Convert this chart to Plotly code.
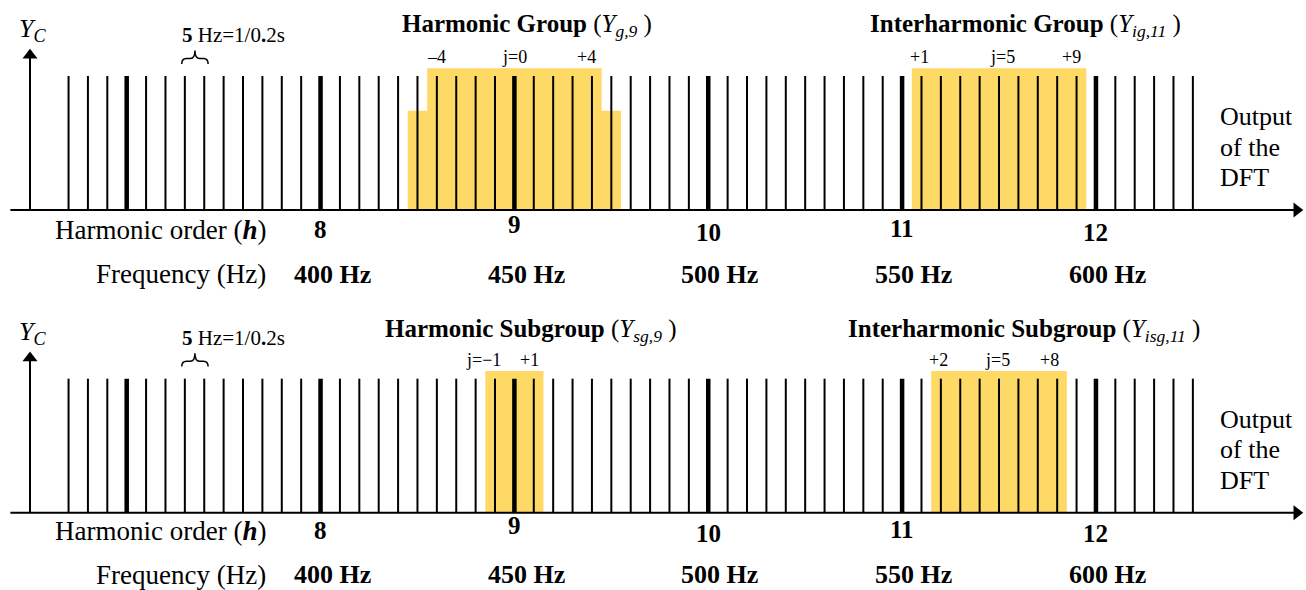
import plotly.graph_objects as go

# ---------------- data ----------------
bin_freqs = [335, 340, 345, 350, 355, 360, 365, 370, 375, 380, 385, 390, 395, 400,
             405, 410, 415, 420, 425, 430, 435, 440, 445, 450, 455, 460, 465, 470,
             475, 480, 485, 490, 495, 500, 505, 510, 515, 520, 525, 530, 535, 540,
             545, 550, 555, 560, 565, 570, 575, 580, 585, 590, 595, 600, 605, 610,
             615, 620, 625]
bin_amps = [1.0, 1.0, 1.0, 1.0, 1.0, 1.0, 1.0, 1.0, 1.0, 1.0, 1.0, 1.0, 1.0, 1.0,
            1.0, 1.0, 1.0, 1.0, 1.0, 1.0, 1.0, 1.0, 1.0, 1.0, 1.0, 1.0, 1.0, 1.0,
            1.0, 1.0, 1.0, 1.0, 1.0, 1.0, 1.0, 1.0, 1.0, 1.0, 1.0, 1.0, 1.0, 1.0,
            1.0, 1.0, 1.0, 1.0, 1.0, 1.0, 1.0, 1.0, 1.0, 1.0, 1.0, 1.0, 1.0, 1.0,
            1.0, 1.0, 1.0]
harmonic_orders = [8, 9, 10, 11, 12]
harmonic_freqs = [400, 450, 500, 550, 600]
freq_labels = ["400 Hz", "450 Hz", "500 Hz", "550 Hz", "600 Hz"]

# shaded groupings: (start Hz, end Hz, height)
top_group_starts = [422.5, 427.5, 552.5]
top_group_ends = [477.5, 472.5, 597.5]
top_group_heights = [0.74, 1.057, 1.057]
bot_group_starts = [442.5, 557.5]
bot_group_ends = [457.5, 592.5]
bot_group_heights = [1.057, 1.057]

FONT = "Liberation Serif"
SHADE = "#FFD966"

fig = go.Figure()


def add_panel(yname, starts, ends, heights):
    centers = [(s + e) / 2 for s, e in zip(starts, ends)]
    widths = [e - s for s, e in zip(starts, ends)]
    fig.add_trace(go.Bar(x=centers, y=heights, width=widths, yaxis=yname,
                         marker=dict(color=SHADE, line=dict(width=0)),
                         hoverinfo="skip"))
    xs_n, ys_n, xs_t, ys_t = [], [], [], []
    for f, a in zip(bin_freqs, bin_amps):
        if f % 50 == 0:
            xs_t += [f, f, None]
            ys_t += [0, a, None]
        else:
            xs_n += [f, f, None]
            ys_n += [0, a, None]
    fig.add_trace(go.Scatter(x=xs_n, y=ys_n, mode="lines", yaxis=yname,
                             line=dict(color="black", width=2), hoverinfo="skip"))
    fig.add_trace(go.Scatter(x=xs_t, y=ys_t, mode="lines", yaxis=yname,
                             line=dict(color="black", width=4.5), hoverinfo="skip"))
    # axis lines with arrowheads
    fig.add_trace(go.Scatter(x=[320, 651.5, None, 325.06, 325.06],
                             y=[0, 0, None, 0, 1.15], mode="lines", yaxis=yname,
                             line=dict(color="black", width=2), hoverinfo="skip"))
    fig.add_trace(go.Scatter(x=[651.8, 325.06], y=[0, 1.155], mode="markers", yaxis=yname,
                             marker=dict(symbol=["triangle-right", "triangle-up"],
                                         size=13, color="black", line=dict(width=0)),
                             hoverinfo="skip"))


add_panel("y", top_group_starts, top_group_ends, top_group_heights)
add_panel("y2", bot_group_starts, bot_group_ends, bot_group_heights)

ann = []
shapes = []


def txt(x, y, text, yref, size=26, xanchor="center", yanchor="middle"):
    ann.append(dict(x=x, y=y, xref="x", yref=yref, text=text, showarrow=False,
                    xanchor=xanchor, yanchor=yanchor,
                    font=dict(family=FONT, size=size, color="black")))


for yref, titles, title_y, jlabels, row_dy in [
    ("y",
     [(420.5, "<b>Harmonic Group</b> (<i>Y</i><sub><i>g,9</i></sub> )"),
      (541.2, "<b>Interharmonic Group</b> (<i>Y</i><sub><i>ig,11</i></sub> )")],
     1.375,
     [(430, "\u20134"), (450, "j=0"), (468.7, "+4"),
      (554.6, "+1"), (576.0, "j=5"), (593.8, "+9")],
     0.0),
    ("y2",
     [(416.1, "<b>Harmonic Subgroup</b> (<i>Y</i><sub><i>sg,9</i></sub> )"),
      (535.5, "<b>Interharmonic Subgroup</b> (<i>Y</i><sub><i>isg,11</i></sub> )")],
     1.36,
     [(442.0, "j=\u22121"), (453.8, "+1"),
      (559.5, "+2"), (574.7, "j=5"), (587.9, "+8")],
     0.015),
]:
    txt(321.7, 1.343, "<i>Y</i><sub><i>C</i></sub>", yref, size=26, xanchor="left")
    txt(363.75, 1.306, "<b>5</b> Hz=1/0<b>.</b>2s", yref, size=21, xanchor="left")
    # brace spanning one bin spacing (365 -> 370 Hz)
    x0, x1 = 364.2, 371.0
    xc = (x0 + x1) / 2
    yb, ym, yt = 1.09, 1.13, 1.19
    d = 1.2
    shapes.append(dict(type="path", xref="x", yref=yref,
                       path=(f"M {x0},{yb} Q {x0},{ym} {x0 + d},{ym} L {xc - d},{ym} "
                             f"Q {xc},{ym} {xc},{yt} Q {xc},{ym} {xc + d},{ym} "
                             f"L {x1 - d},{ym} Q {x1},{ym} {x1},{yb}"),
                       line=dict(color="black", width=1.5)))
    for x, t in titles:
        txt(x, title_y, t, yref, size=25, xanchor="left")
    for x, t in jlabels:
        txt(x, 1.142, t, yref, size=18)
    for yy, t in [(0.694, "Output"), (0.470, "of the"), (0.239, "DFT")]:
        txt(631.5, yy, t, yref, size=26, xanchor="left")
    txt(386.4, -0.149 + row_dy, "Harmonic order (<b><i>h</i></b>)", yref, size=27, xanchor="right")
    txt(386.4, -0.478 + row_dy, "Frequency (Hz)", yref, size=27, xanchor="right")
    h_dy = [-0.149, -0.112, -0.169, -0.140, -0.169]
    for f, h, dy in zip(harmonic_freqs, harmonic_orders, h_dy):
        txt(f, dy + row_dy, f"<b>{h}</b>", yref, size=25)
    for f, lab in zip(harmonic_freqs, freq_labels):
        txt(f + 3.0, -0.478 + row_dy, f"<b>{lab}</b>", yref, size=26)

fig.update_layout(
    width=1306, height=590,
    margin=dict(l=0, r=0, t=0, b=0),
    paper_bgcolor="white", plot_bgcolor="white",
    showlegend=False, barmode="overlay",
    xaxis=dict(range=[317.32, 654.18], visible=False, showgrid=False, zeroline=False),
    yaxis=dict(range=[-2.836, 1.567], visible=False, showgrid=False, zeroline=False),
    yaxis2=dict(range=[-0.577, 3.826], visible=False, showgrid=False, zeroline=False,
                overlaying="y"),
    annotations=ann, shapes=shapes,
)

fig.write_html("out.html", config={"displayModeBar": False},
               post_script="document.body.style.margin='0';document.body.style.overflow='hidden';")
